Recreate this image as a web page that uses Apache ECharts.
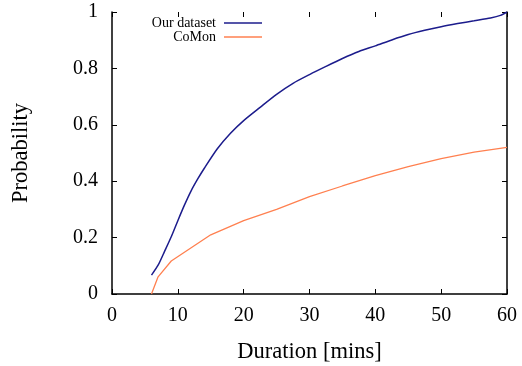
<!DOCTYPE html>
<html>
<head>
<meta charset="utf-8">
<script src="https://cdn.jsdelivr.net/npm/echarts@6/dist/echarts.min.js"></script>
<style>html,body{margin:0;padding:0;background:#fff}#c{width:522px;height:366px}</style>
</head>
<body>
<div id="c"></div>
<script>
var seriesNames = ['Our dataset', 'CoMon'];
var ourX = [6, 7, 8, 9, 10, 11, 12, 13, 14, 16, 18, 20, 22.5, 25, 27.5, 30, 32.5, 35, 37.5, 40, 42.5, 45, 47.5, 50, 52.5, 55, 57.5, 59, 60];
var ourY = [0.067, 0.102, 0.152, 0.203, 0.26, 0.315, 0.365, 0.407, 0.445, 0.515, 0.57, 0.615, 0.662, 0.708, 0.747, 0.778, 0.807, 0.835, 0.86, 0.88, 0.901, 0.92, 0.935, 0.948, 0.959, 0.969, 0.979, 0.988, 1.0];
var comonX = [6, 7, 9, 15, 20, 25, 30, 35, 40, 45, 50, 55, 60];
var comonY = [0, 0.061, 0.117, 0.21, 0.26, 0.30, 0.345, 0.383, 0.42, 0.452, 0.48, 0.503, 0.52];
var xTicks = [0, 10, 20, 30, 40, 50, 60];
var yTicks = [0, 0.2, 0.4, 0.6, 0.8, 1];

function pairs(xs, ys) { return xs.map(function (x, i) { return [x, ys[i]]; }); }

var font = '"Liberation Serif", "Times New Roman", serif';
var chart = echarts.init(document.getElementById('c'), null, {renderer: 'canvas'});
function axisLineStyle(show) { return {show: show, onZero: false, lineStyle: {color: '#000', width: 1.5}}; }
function tickStyle() { return {show: true, inside: true, length: 5, lineStyle: {color: '#000', width: 1}}; }
chart.setOption({
  animation: false,
  backgroundColor: '#fff',
  grid: {left: 112, right: 15, top: 12, bottom: 72, containLabel: false, outerBoundsMode: 'none'},
  legend: [
    {data: [seriesNames[0]], right: 260, top: 16, align: 'right', orient: 'vertical', padding: 0,
     icon: 'rect', itemWidth: 38, itemHeight: 1.5, itemGap: 0,
     textStyle: {fontFamily: font, fontSize: 14, color: '#000', padding: [0, 3, 0, 0]}},
    {data: [seriesNames[1]], right: 260, top: 30, align: 'right', orient: 'vertical', padding: 0,
     icon: 'rect', itemWidth: 38, itemHeight: 1.5, itemGap: 0,
     textStyle: {fontFamily: font, fontSize: 14, color: '#000', padding: [0, 3, 0, 0]}}
  ],
  xAxis: [
    {type: 'value', min: 0, max: 60, interval: 10, position: 'bottom',
     name: 'Duration [mins]', nameLocation: 'middle', nameGap: 47,
     nameTextStyle: {fontFamily: font, fontSize: 22.5, color: '#000'},
     axisLine: axisLineStyle(true),
     axisTick: tickStyle(),
     axisLabel: {fontFamily: font, fontSize: 20, color: '#000', margin: 12,
                 formatter: function (v) { return xTicks.indexOf(v) >= 0 ? String(v) : ''; }},
     splitLine: {show: false}},
    {type: 'value', min: 0, max: 60, interval: 10, position: 'top',
     axisLine: axisLineStyle(false),
     axisTick: tickStyle(),
     axisLabel: {show: false}, splitLine: {show: false}}
  ],
  yAxis: [
    {type: 'value', min: 0, max: 1, interval: 0.2, position: 'left',
     name: 'Probability', nameLocation: 'middle', nameGap: 79,
     nameTextStyle: {fontFamily: font, fontSize: 22.5, color: '#000'},
     axisLine: axisLineStyle(true),
     axisTick: tickStyle(),
     axisLabel: {fontFamily: font, fontSize: 20, color: '#000', margin: 14,
                 formatter: function (v) { var r = Math.round(v * 10) / 10; return yTicks.indexOf(r) >= 0 ? String(r) : ''; }},
     splitLine: {show: false}},
    {type: 'value', min: 0, max: 1, interval: 0.2, position: 'right',
     axisLine: axisLineStyle(true),
     axisTick: tickStyle(),
     axisLabel: {show: false}, splitLine: {show: false}}
  ],
  series: [
    {name: seriesNames[0], type: 'line', data: pairs(ourX, ourY), showSymbol: false, smooth: 0.25,
     xAxisIndex: 0, yAxisIndex: 0,
     lineStyle: {color: '#1c1c8c', width: 1.5}, itemStyle: {color: '#1c1c8c'}},
    {name: seriesNames[1], type: 'line', data: pairs(comonX, comonY), showSymbol: false, smooth: false,
     xAxisIndex: 0, yAxisIndex: 0,
     lineStyle: {color: '#ff8050', width: 1.3}, itemStyle: {color: '#ff8050'}}
  ]
});
</script>
</body>
</html>
